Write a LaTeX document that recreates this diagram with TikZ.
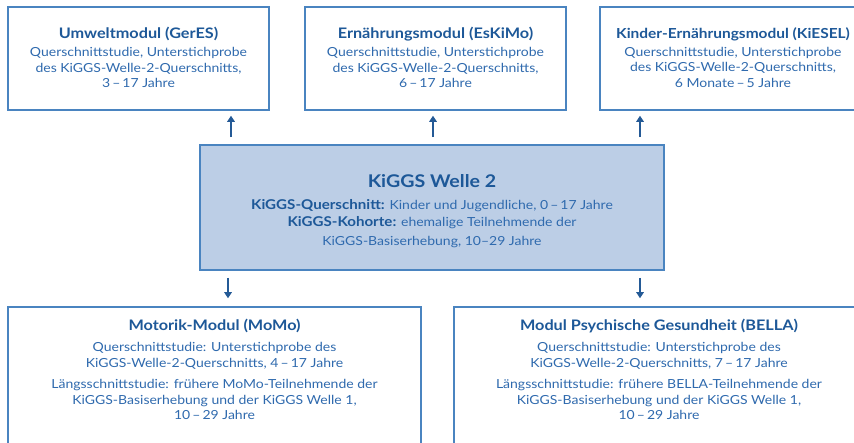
\documentclass[tikz,border=0pt]{standalone}
\usepackage{fontspec}
\setmainfont{Lato}[FakeStretch=1.12]
\usetikzlibrary{arrows.meta}
\definecolor{bordc}{HTML}{4A84C0}
\definecolor{fillc}{HTML}{BCCEE6}
\definecolor{txtc}{HTML}{2F6AAE}
\definecolor{ttlc}{HTML}{1D5898}
\definecolor{arrc}{HTML}{245A96}
\begin{document}
\begin{tikzpicture}[x=1pt,y=-1pt,
  box/.style={draw=bordc, line width=1.6pt, fill=white, rectangle, inner sep=0pt},
  txt/.style={align=center, text=txtc, inner sep=0pt, font=\fontsize{12.5}{15.5}\selectfont},
  arr/.style={draw=arrc, line width=1.4pt, -{Triangle[length=6pt,width=7.5pt]}}]
\useasboundingbox (0,0) rectangle (854,443);
\clip (0,0) rectangle (854,443);
\fill[white] (0,0) rectangle (854,443);
\newcommand{\ttlA}[1]{{\fontsize{14.5}{15.5}\selectfont\bfseries\color{ttlc}#1}}
\newcommand{\ttlC}[1]{{\fontsize{13.8}{15.5}\selectfont\bfseries\color{ttlc}#1}}
\newcommand{\ttlM}[1]{{\fontsize{17.5}{15.5}\selectfont\bfseries\color{ttlc}#1}}
\newcommand{\bldM}[1]{{\fontsize{13.5}{15.5}\selectfont\bfseries\color{ttlc}#1}}
% top boxes
\node[box, minimum width=261pt, minimum height=103pt] (A) at (138.5,58.5) {};
\node[box, minimum width=261pt, minimum height=103pt] (B) at (435.5,58.5) {};
\node[box, minimum width=269pt, minimum height=103pt] (C) at (734.5,58.5) {};
\node[txt] (At) at (138.5,57.5) {\ttlA{Umweltmodul (GerES)}\\[2.5pt]Querschnittstudie, Unterstichprobe\\des KiGGS-Welle-2-Querschnitts,\\3\,–\,17 Jahre};
\node[txt] (Bt) at (435.5,57.5) {\ttlA{Ernährungsmodul (EsKiMo)}\\[2.5pt]Querschnittstudie, Unterstichprobe\\des KiGGS-Welle-2-Querschnitts,\\6\,–\,17 Jahre};
\node[txt] (Ct) at (733,57.5) {\ttlC{Kinder-Ernährungsmodul (KiESEL)}\\[2.5pt]Querschnittstudie, Unterstichprobe\\des KiGGS-Welle-2-Querschnitts,\\6 Monate\,–\,5 Jahre};
% middle box
\node[box, fill=fillc, minimum width=464pt, minimum height=125pt] (M) at (432,207.5) {};
\node[txt] (Mt) at (432,211) {\ttlM{KiGGS Welle 2}\\[6pt]\bldM{KiGGS-Querschnitt:} Kinder und Jugendliche, 0\,–\,17 Jahre\\[2pt]\bldM{KiGGS-Kohorte:} ehemalige Teilnehmende der\\[3pt]KiGGS-Basiserhebung, 10–29 Jahre};
% bottom boxes
\node[box, minimum width=413pt, minimum height=160pt] (D) at (214.5,387) {};
\node[box, minimum width=410pt, minimum height=160pt] (E) at (659,387) {};
\node[txt] (Dt) at (214.5,369.5) {\ttlA{Motorik-Modul (MoMo)}\\[6pt]Querschnittstudie: Unterstichprobe des\\KiGGS-Welle-2-Querschnitts, 4\,–\,17 Jahre\\[6pt]Längsschnittstudie: frühere MoMo-Teilnehmende der\\KiGGS-Basiserhebung und der KiGGS Welle 1,\\10\,–\,29 Jahre};
\node[txt] (Et) at (659,369.5) {\ttlA{Modul Psychische Gesundheit (BELLA)}\\[6pt]Querschnittstudie: Unterstichprobe des\\KiGGS-Welle-2-Querschnitts, 7\,–\,17 Jahre\\[6pt]Längsschnittstudie: frühere BELLA-Teilnehmende der\\KiGGS-Basiserhebung und der KiGGS Welle 1,\\10\,–\,29 Jahre};
% arrows
\draw[arr, shorten <=7pt, shorten >=5pt] (M.north -| 231,0) -- (A.south -| 231,0);
\draw[arr, shorten <=7pt, shorten >=5pt] (M.north -| 433,0) -- (B.south -| 433,0);
\draw[arr, shorten <=7pt, shorten >=5pt] (M.north -| 640,0) -- (C.south -| 640,0);
\draw[arr, shorten <=7pt, shorten >=8pt] (M.south -| 228,0) -- (D.north -| 228,0);
\draw[arr, shorten <=7pt, shorten >=8pt] (M.south -| 640,0) -- (E.north -| 640,0);
\end{tikzpicture}
\end{document}
